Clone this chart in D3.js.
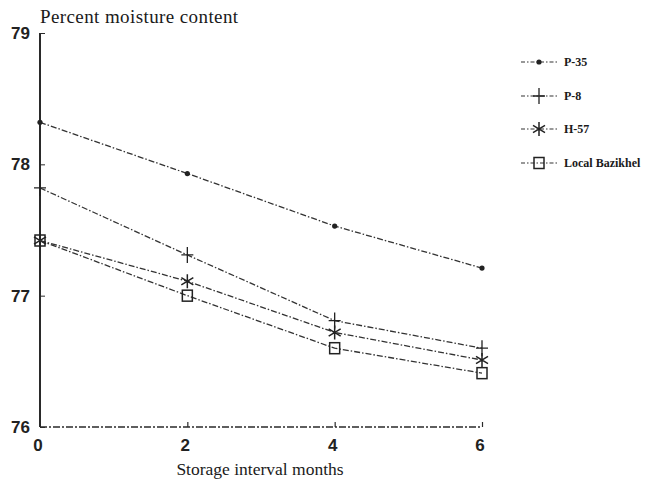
<!DOCTYPE html>
<html><head><meta charset="utf-8">
<script src="https://cdn.jsdelivr.net/npm/d3@7"></script>
<style>body{margin:0;background:#fff}svg{display:block}</style>
</head><body>
<svg id="c" width="646" height="481"></svg>
<script>
const months = [0, 2, 4, 6];
const seriesNames = ["P-35", "P-8", "H-57", "Local Bazikhel"];
const p35 = [78.32, 77.93, 77.53, 77.21];
const p8 = [77.82, 77.31, 76.81, 76.60];
const h57 = [77.42, 77.11, 76.72, 76.51];
const local = [77.42, 77.00, 76.60, 76.41];
const yTicks = [76, 77, 78, 79];
const xTicks = [0, 2, 4, 6];
const markers = ["dot", "plus", "star", "square"];
const allSeries = [p35, p8, h57, local];

const svg = d3.select("#c");
const ink = "#2a2a2a";
const x = d3.scaleLinear().domain([0, 6]).range([40, 482]);
const y = d3.scaleLinear().domain([76, 79]).range([427, 33]);

// y axis
const yAx = svg.append("g").attr("transform", "translate(40,0)")
  .call(d3.axisRight(y).tickValues(yTicks).tickSize(5).tickFormat(""));
yAx.select(".domain").attr("stroke", ink).attr("stroke-width", 2).attr("d", `M0,${y(79)}V${y(76)}`);
yAx.selectAll(".tick line").attr("stroke", ink).attr("stroke-width", 1);
svg.selectAll(".ylab").data(yTicks).join("text")
  .attr("x", 30).attr("y", d => y(d) + 6).attr("text-anchor", "end")
  .attr("font-family", "Liberation Sans, Arial, sans-serif").attr("font-weight", "bold")
  .attr("font-size", 17).attr("fill", "#222").text(d => d);

// x axis
const xAx = svg.append("g").attr("transform", `translate(0,${y(76)})`)
  .call(d3.axisTop(x).tickValues(xTicks.slice(1)).tickSize(5).tickFormat(""));
xAx.select(".domain").attr("stroke", ink).attr("stroke-width", 1.3).attr("stroke-dasharray", "7,2,2,2")
  .attr("d", `M${x(0)},0H${x(6)}`);
xAx.selectAll(".tick line").attr("stroke", ink).attr("stroke-width", 1.2);
svg.selectAll(".xlab").data(xTicks).join("text")
  .attr("x", d => x(d) - 2).attr("y", 451).attr("text-anchor", "middle")
  .attr("font-family", "Liberation Sans, Arial, sans-serif").attr("font-weight", "bold")
  .attr("font-size", 17).attr("fill", "#222").text(d => d);

svg.append("text").attr("x", 40).attr("y", 23)
  .attr("font-family", "Liberation Serif, Times New Roman, serif").attr("font-size", 19)
  .attr("letter-spacing", 0.4).attr("fill", "#1a1a1a").text("Percent moisture content");
svg.append("text").attr("x", 260).attr("y", 475).attr("text-anchor", "middle")
  .attr("font-family", "Liberation Serif, Times New Roman, serif").attr("font-size", 17.5)
  .attr("fill", "#1a1a1a").text("Storage interval months");

function drawMarker(g, type, cx, cy) {
  if (type === "dot") {
    g.append("circle").attr("cx", cx).attr("cy", cy).attr("r", 2.6).attr("fill", "#222");
  } else if (type === "plus") {
    g.append("path").attr("d", `M${cx-6},${cy}H${cx+6}M${cx},${cy-8}V${cy+8}`)
      .attr("stroke", "#222").attr("stroke-width", 1.3).attr("fill", "none");
  } else if (type === "star") {
    const r = 6;
    let d = `M${cx},${cy-r-1}V${cy+r+1}`;
    d += `M${cx-r},${cy-r*0.6}L${cx+r},${cy+r*0.6}M${cx-r},${cy+r*0.6}L${cx+r},${cy-r*0.6}`;
    g.append("path").attr("d", d).attr("stroke", "#222").attr("stroke-width", 1.5).attr("fill", "none");
  } else {
    g.append("rect").attr("x", cx-5).attr("y", cy-5.5).attr("width", 10).attr("height", 11)
      .attr("fill", "none").attr("stroke", "#222").attr("stroke-width", 1.5);
  }
}

const line = d3.line().x((d, i) => x(months[i])).y(d => y(d));
allSeries.forEach((s, k) => {
  svg.append("path").datum(s).attr("d", line).attr("fill", "none")
    .attr("stroke", "#333").attr("stroke-width", 1.3).attr("stroke-dasharray", "6,2,1.5,2");
  const g = svg.append("g");
  s.forEach((v, i) => drawMarker(g, markers[k], x(months[i]), y(v)));
});

// legend
const legY = [62, 96, 129, 163];
seriesNames.forEach((n, k) => {
  const g = svg.append("g");
  g.append("line").attr("x1", 521).attr("x2", 557).attr("y1", legY[k]).attr("y2", legY[k])
    .attr("stroke", "#333").attr("stroke-width", 1.2).attr("stroke-dasharray", "4,2,1.5,2");
  drawMarker(g, markers[k], 539, legY[k]);
  g.append("text").attr("x", 564).attr("y", legY[k] + 4)
    .attr("font-family", "Liberation Serif, Times New Roman, serif").attr("font-weight", "bold")
    .attr("font-size", 12).attr("fill", "#1a1a1a").text(n);
});
</script>
</body></html>
